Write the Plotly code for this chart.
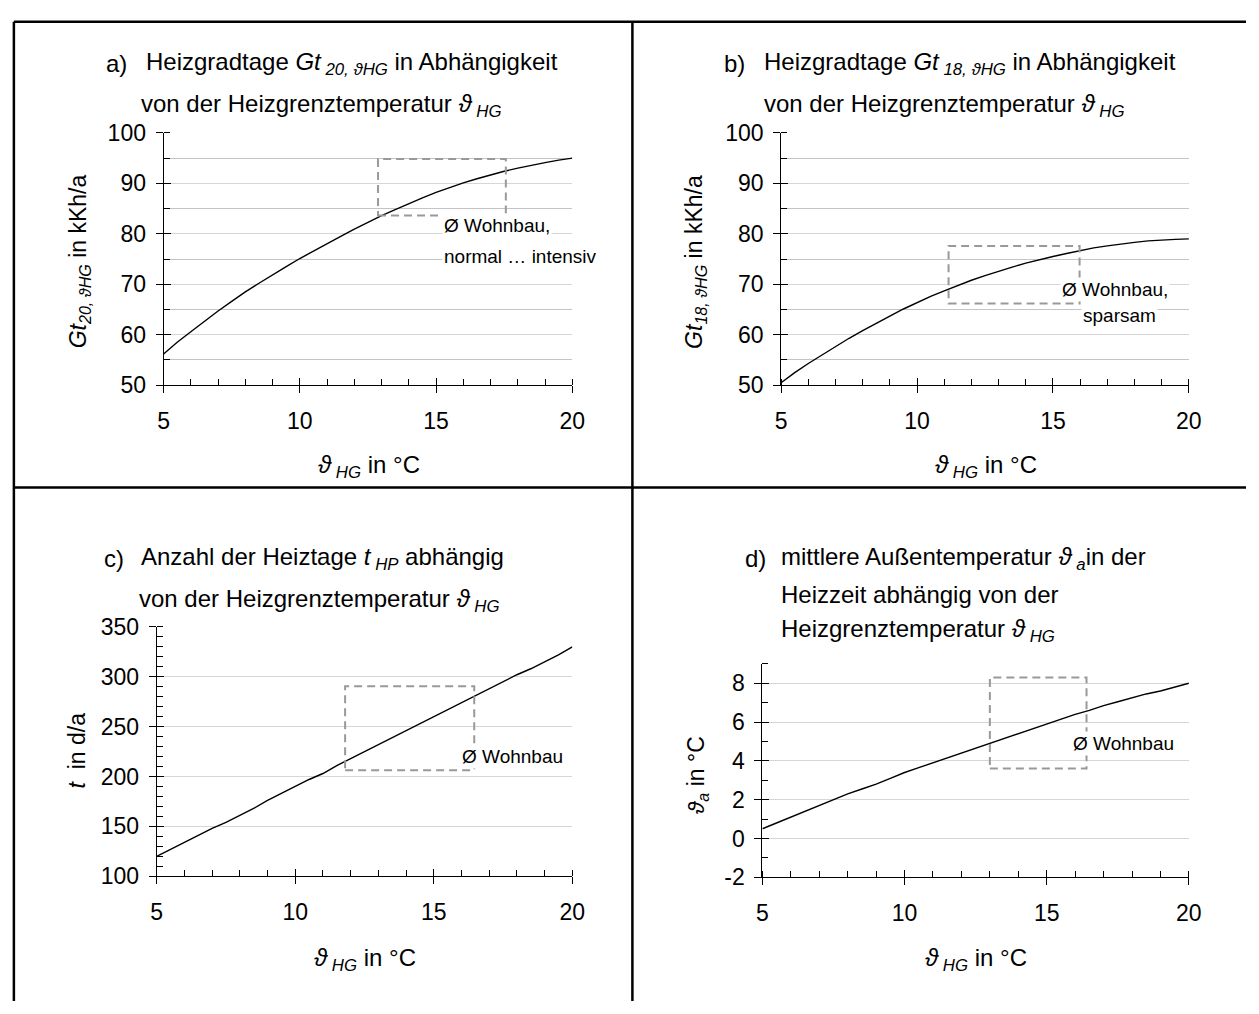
import plotly.graph_objects as go

W, H = 1259, 1014

# ---------------- data ----------------
theta_hg = [5, 5.5, 6, 6.5, 7, 7.5, 8, 8.5, 9, 9.5, 10, 10.5, 11, 11.5, 12, 12.5,
            13, 13.5, 14, 14.5, 15, 15.5, 16, 16.5, 17, 17.5, 18, 18.5, 19, 19.5, 20]

gt20 = [56.2, 58.5, 60.6, 62.7, 64.7, 66.6, 68.5, 70.2, 71.9, 73.5, 75.1, 76.6, 78.1,
        79.5, 80.9, 82.3, 83.6, 84.8, 86.0, 87.1, 88.2, 89.2, 90.1, 90.9, 91.7, 92.4,
        93.0, 93.6, 94.1, 94.6, 95.0]

gt18 = [50.5, 52.5, 54.3, 56.0, 57.7, 59.3, 60.8, 62.3, 63.7, 65.1, 66.4, 67.6, 68.7,
        69.8, 70.8, 71.7, 72.6, 73.4, 74.2, 74.9, 75.5, 76.1, 76.7, 77.2, 77.6, 78.0,
        78.3, 78.6, 78.8, 78.9, 79.0]

t_hp = [120, 127, 134, 141, 148, 154, 161, 168, 176, 183, 190, 197, 203, 211, 218, 225,
        232, 239, 246, 253, 260, 267, 274, 281, 288, 295, 302, 308, 315, 322, 330]

theta_a = [0.5, 0.8, 1.1, 1.4, 1.7, 2.0, 2.3, 2.55, 2.8, 3.1, 3.4, 3.65, 3.9, 4.15, 4.4,
           4.65, 4.9, 5.15, 5.4, 5.65, 5.9, 6.15, 6.4, 6.6, 6.85, 7.05, 7.25, 7.45, 7.6,
           7.8, 8.0]

# "Ø Wohnbau" ranges: [x0, x1, y0, y1]
box_a = [12.87, 17.56, 83.6, 94.8]
box_b = [11.16, 15.98, 66.2, 77.6]
box_c = [11.8, 16.46, 206.4, 290.4]
box_d = [13.0, 16.4, 3.6, 8.3]

x_ticks = [5, 10, 15, 20]
y_ticks_a = [50, 60, 70, 80, 90, 100]
y_ticks_b = [50, 60, 70, 80, 90, 100]
y_ticks_c = [100, 150, 200, 250, 300, 350]
y_ticks_d = [-2, 0, 2, 4, 6, 8]
y_ticktext_d = ["-2", "0", "2", "4", "6", "8"]

# ---------------- helpers ----------------
FONT = "Liberation Sans, Arial, sans-serif"


def px(x):
    return x / W


def py(y):
    return 1 - y / H


fig = go.Figure()

panels = [
    # suffix, overlay suffix, y data, x pixel span, y pixel span, y range, y ticks, y ticktext, y minor, minor grid
    ("", "5", gt20, (160, 575), (123, 382), [50, 100], y_ticks_a, None, 5, True),
    ("2", "6", gt18, (787, 1201), (123, 382), [50, 100], y_ticks_b, None, 5, True),
    ("3", "7", t_hp, (153, 575), (630, 886), [100, 350], y_ticks_c, None, 10, False),
    ("4", "8", theta_a, (768, 1201), (668, 887), [-2, 9], y_ticks_d, y_ticktext_d, 1, False),
]

TICKFONT = dict(family=FONT, size=23, color="#000")
layout_axes = {}
for s, o, ydata, (x0p, x1p), (y0p, y1p), yr, ytv, ytt, ymin, mgrid in panels:
    fig.add_trace(go.Scatter(
        x=theta_hg, y=ydata, mode="lines",
        line=dict(color="#000000", width=1.4),
        xaxis="x" + s, yaxis="y" + s, showlegend=False, hoverinfo="skip"))
    # empty traces so the overlay axes (inner half of the crossing ticks) are drawn
    fig.add_trace(go.Scatter(x=[], y=[], xaxis="x" + o, yaxis="y" + s,
                             showlegend=False, hoverinfo="skip"))
    fig.add_trace(go.Scatter(x=[], y=[], xaxis="x" + s, yaxis="y" + o,
                             showlegend=False, hoverinfo="skip"))
    layout_axes["xaxis" + s] = dict(
        domain=[px(x0p), px(x1p)], range=[5, 20], anchor="y" + s,
        tickmode="array", tickvals=x_ticks,
        ticks="outside", ticklen=7, tickcolor="#000", tickwidth=1,
        minor=dict(tickmode="linear", dtick=1, tick0=5, ticks="inside", ticklen=6,
                   tickcolor="#000", showgrid=False),
        showline=True, linecolor="#000", linewidth=1,
        showgrid=False, zeroline=False,
        tickfont=TICKFONT, ticklabelstandoff=8,
    )
    layout_axes["xaxis" + o] = dict(
        overlaying="x" + s, anchor="y" + s, side="bottom", range=[5, 20],
        tickmode="array", tickvals=x_ticks, ticks="inside", ticklen=7,
        tickcolor="#000", tickwidth=1, showticklabels=False,
        showline=False, showgrid=False, zeroline=False,
    )
    ydict = dict(
        domain=[py(y1p), py(y0p)], range=yr, anchor="x" + s,
        tickmode="array", tickvals=ytv,
        ticks="outside", ticklen=7, tickcolor="#000", tickwidth=1,
        minor=dict(tickmode="linear", dtick=ymin, tick0=yr[0], ticks="inside", ticklen=6,
                   tickcolor="#000", showgrid=mgrid, gridcolor="#c4c4c4", gridwidth=1),
        showline=True, linecolor="#000", linewidth=1,
        showgrid=True, gridcolor="#d6d6d6", gridwidth=1, zeroline=False,
        tickfont=TICKFONT, ticklabelstandoff=5,
    )
    if ytt is not None:
        ydict["ticktext"] = ytt
    layout_axes["yaxis" + s] = ydict
    layout_axes["yaxis" + o] = dict(
        overlaying="y" + s, anchor="x" + s, side="left", range=yr,
        tickmode="array", tickvals=ytv, ticks="inside", ticklen=7,
        tickcolor="#000", tickwidth=1, showticklabels=False,
        showline=False, showgrid=False, zeroline=False,
    )

fig.update_layout(**layout_axes)

# dashed "Ø Wohnbau" boxes
for s, bx in [("", box_a), ("2", box_b), ("3", box_c), ("4", box_d)]:
    fig.add_shape(type="rect", xref="x" + s, yref="y" + s,
                  x0=bx[0], x1=bx[1], y0=bx[2], y1=bx[3],
                  line=dict(color="#999999", width=2, dash="8px,5px"),
                  fillcolor="rgba(0,0,0,0)", layer="above")

ann = []


def note(text, x, y, xref, yref, xanchor="left", size=19):
    ann.append(dict(text=text, x=x, y=y, xref=xref, yref=yref, xanchor=xanchor,
                    yanchor="middle", showarrow=False, bgcolor="#ffffff",
                    borderpad=1, font=dict(family=FONT, size=size, color="#000")))


# annotations in the plots
note("Ø Wohnbau,", 15.22, 81.7, "x", "y")
note("normal … intensiv", 15.22, 75.5, "x", "y")
note("Ø Wohnbau,", 17.28, 68.9, "x2", "y2", xanchor="center")
note("sparsam", 17.46, 63.9, "x2", "y2", xanchor="center")
note("Ø Wohnbau", 15.93, 220, "x3", "y3")
note("Ø Wohnbau", 15.87, 4.88, "x4", "y4")


def ptext(text, xp, yp, xanchor="left", size=24, angle=0):
    ann.append(dict(text=text, x=px(xp), y=py(yp), xref="paper", yref="paper",
                    xanchor=xanchor, yanchor="middle", showarrow=False,
                    textangle=angle, font=dict(family=FONT, size=size, color="#000")))


TH = "ϑ"
# titles
ptext("a)", 100, 52)
ptext(f"Heizgradtage <i>Gt</i><sub><i> 20, {TH}HG</i></sub> in Abhängigkeit", 140, 52)
ptext(f"von der Heizgrenztemperatur <i>{TH}</i><sub><i> HG</i></sub>", 135, 95)
ptext("b)", 727, 52)
ptext(f"Heizgradtage <i>Gt</i><sub><i> 18, {TH}HG</i></sub> in Abhängigkeit", 768, 52)
ptext(f"von der Heizgrenztemperatur <i>{TH}</i><sub><i> HG</i></sub>", 768, 95)
ptext("c)", 97, 560)
ptext("Anzahl der Heiztage <i>t</i><sub><i> HP</i></sub> abhängig", 135, 560)
ptext(f"von der Heizgrenztemperatur <i>{TH}</i><sub><i> HG</i></sub>", 133, 603)
ptext("d)", 748, 560)
ptext(f"mittlere Außentemperatur <i>{TH}</i><sub><i> a</i></sub>in der", 785, 560)
ptext("Heizzeit abhängig von der", 785, 597)
ptext(f"Heizgrenztemperatur <i>{TH}</i><sub><i> HG</i></sub>", 785, 634)

# axis titles
xt = f"<i>{TH}</i><sub><i> HG</i></sub> in °C"
ptext(xt, 369, 465, xanchor="center")
ptext(xt, 995, 465, xanchor="center")
ptext(xt, 365, 971, xanchor="center")
ptext(xt, 985, 971, xanchor="center")
ptext(f"<i>Gt</i><sub><i>20, {TH}HG</i></sub> in kKh/a", 75, 255, xanchor="center", size=23, angle=-90)
ptext(f"<i>Gt</i><sub><i>18, {TH}HG</i></sub> in kKh/a", 700, 255, xanchor="center", size=23, angle=-90)
ptext("<i>t</i>  in d/a", 72, 757, xanchor="center", size=23, angle=-90)
ptext(f"<i>{TH}</i><sub><i>a</i></sub> in °C", 703, 782, xanchor="center", size=23, angle=-90)

# frame lines
frame = [
    (8, 9, 8, H),        # left
    (8, 9, W, 9),        # top
    (636, 9, 636, H),    # vertical divider
    (8, 487, W, 487),    # horizontal divider
]
for x0, y0, x1, y1 in frame:
    fig.add_shape(type="line", xref="paper", yref="paper",
                  x0=px(x0), y0=py(y0), x1=px(x1), y1=py(y1),
                  line=dict(color="#000", width=2.5), layer="above")

fig.update_layout(
    annotations=ann,
    width=W, height=H,
    margin=dict(l=0, r=0, t=0, b=0),
    paper_bgcolor="#ffffff", plot_bgcolor="#ffffff",
    font=dict(family=FONT, size=22, color="#000"),
    showlegend=False,
)

fig.write_html("out.html", config={"displayModeBar": False})
